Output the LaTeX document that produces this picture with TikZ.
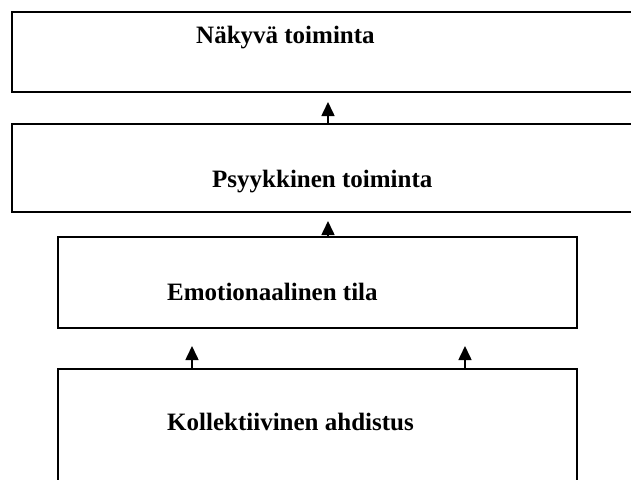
\documentclass[tikz,border=0pt]{standalone}
\usepackage{fontspec}
\setmainfont{Liberation Serif}
\usetikzlibrary{arrows.meta}

\begin{document}
\begin{tikzpicture}[x=1pt,y=-1pt,font=\fontsize{25}{30}\selectfont\bfseries,
  box/.style={draw,line width=1.6pt,anchor=north west,inner sep=0pt},
  uparrow/.style={-{Triangle[width=13pt,length=14pt]},line width=1.6pt}]
  \useasboundingbox (0,0) rectangle (631,479);
  \clip (0,0) rectangle (631,479);
  % boxes, top to bottom
  \node[box,minimum width=640pt,minimum height=80pt] (nakyva) at (11,11) {};
  \node[box,minimum width=640pt,minimum height=88pt] (psyyk) at (11,123) {};
  \node[box,minimum width=519pt,minimum height=91pt] (emot) at (57,236) {};
  \node[box,minimum width=519pt,minimum height=140pt] (koll) at (57,368) {};
  % labels
  \node[anchor=base west,inner sep=0pt] (nakyvatxt) at (196,43) {Näkyvä toiminta};
  \node[anchor=base west,inner sep=0pt] (psyyktxt) at (212,187) {Psyykkinen toiminta};
  \node[anchor=base west,inner sep=0pt] (emottxt) at (167,300) {Emotionaalinen tila};
  \node[anchor=base west,inner sep=0pt] (kolltxt) at (167,430) {Kollektiivinen ahdistus};
  % arrows
  \coordinate (tipA) at (328,102);
  \coordinate (tipB) at (328,221);
  \coordinate (tipC) at (192,346);
  \coordinate (tipD) at (465,346);
  \draw[uparrow] (tipA |- psyyk.north) -- (tipA);
  \draw[uparrow] (tipB |- emot.north) -- (tipB);
  \draw[uparrow] (tipC |- koll.north) -- (tipC);
  \draw[uparrow] (tipD |- koll.north) -- (tipD);
\end{tikzpicture}
\end{document}
